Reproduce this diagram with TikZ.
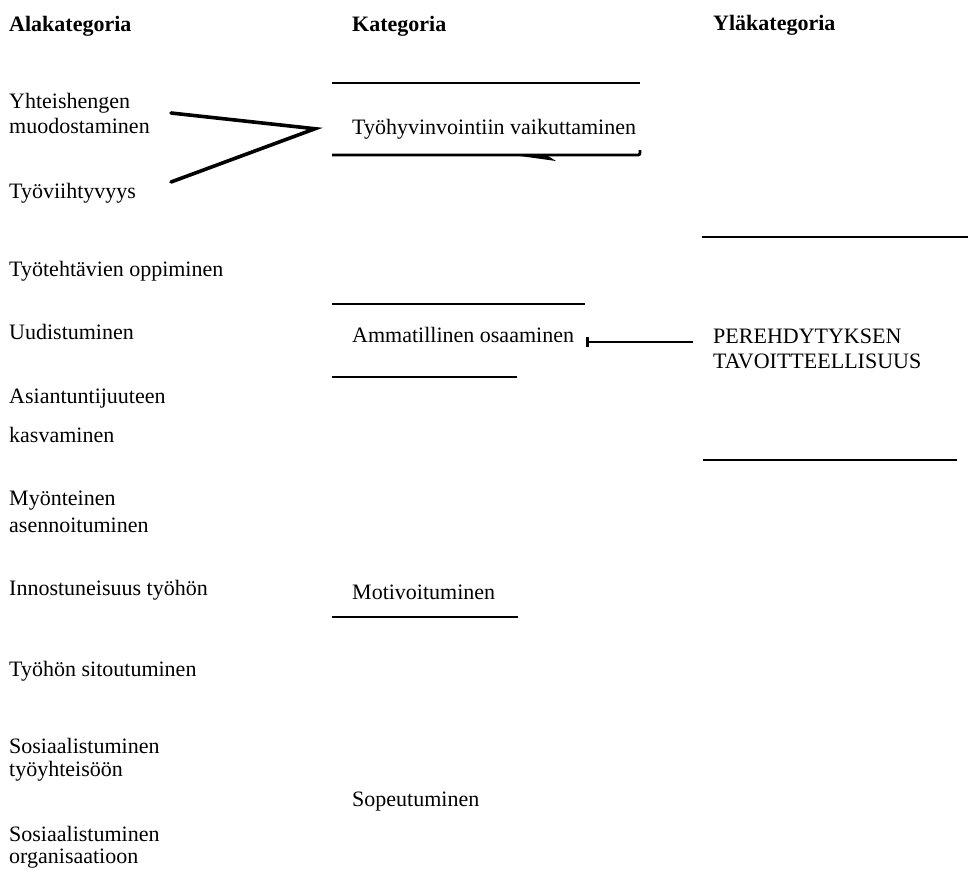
\documentclass[tikz,border=0pt]{standalone}
\usepackage{fontspec}
\setmainfont{Liberation Serif}
\usetikzlibrary{arrows.meta}
\begin{document}
\begin{tikzpicture}[x=1pt, y=-1pt,
    heading/.style ={anchor=base west, inner sep=0pt, font=\fontsize{22}{25}\selectfont\bfseries},
    subcategory/.style ={anchor=base west, inner sep=0pt, align=left, font=\fontsize{22}{25}\selectfont},
    category/.style ={subcategory},
    rule/.style ={line width=2.8pt},
    fork/.style ={line width=3.6pt, line join=miter, line cap=round}]
   \useasboundingbox (0,0) rectangle (968,871);
   \node[heading] (H1) at (9,31)  {Alakategoria};
   \node[heading] (H2) at (352,31)  {Kategoria};
   \node[heading] (H3) at (713,30)  {Yläkategoria};
   \node[subcategory] (S1) at (9,133)  {Yhteishengen\\muodostaminen};
   \node[subcategory] (S2) at (9,198)  {Työviihtyvyys};
   \node[subcategory] (S3) at (9,276)  {Työtehtävien oppiminen};
   \node[subcategory] (S4) at (9,339)  {Uudistuminen};
   \node[subcategory] (S5) at (9,442)  {Asiantuntijuuteen\\[14pt]kasvaminen};
   \node[subcategory] (S6) at (9,532)  {Myönteinen\\[2pt]asennoituminen};
   \node[subcategory] (S7) at (9,595)  {Innostuneisuus työhön};
   \node[subcategory] (S8) at (9,676)  {Työhön sitoutuminen};
   \node[subcategory] (S9) at (9,776)  {Sosiaalistuminen\\[-2pt]työyhteisöön};
   \node[subcategory] (S10) at (9,863)  {Sosiaalistuminen\\[-3pt]organisaatioon};
   \node[category] (K1) at (352,134)  {Työhyvinvointiin vaikuttaminen};
   \node[category] (K2) at (352,342)  {Ammatillinen osaaminen};
   \node[category] (K3) at (352,599)  {Motivoituminen};
   \node[category] (K4) at (352,806)  {Sopeutuminen};
   \node[category] (Y) at (713,368)  {PEREHDYTYKSEN\\TAVOITTEELLISUUS};
   \draw[rule] (332,83) to (640,83);
   \draw[rule] (332,155) -- (636,155) .. controls (640,155) .. (640,150);
   \fill (520,156) -- (556,161) -- (548,156) -- cycle;
   \draw[rule] (332,304) to (585,304);
   \draw[rule] (332,377) to (517,377);
   \draw[rule] (332,617) to (518,617);
   \draw[rule] (702,237) to (968,237);
   \draw[rule] (703,460) to (957,460);
   \coordinate (F1) at (171,113);
   \coordinate (F2) at (171,182);
   \coordinate (tip) at ([xshift=-37pt]K1.west);
   \draw[fork] (F1) to (tip) to (F2);
   \draw[line width=2.6pt, {Bar[width=10pt,line width=2.4pt]}-, shorten <=12pt, shorten >=20pt] (K2.base east) to (K2.base east -| Y.west);
 \end{tikzpicture}
\end{document}
